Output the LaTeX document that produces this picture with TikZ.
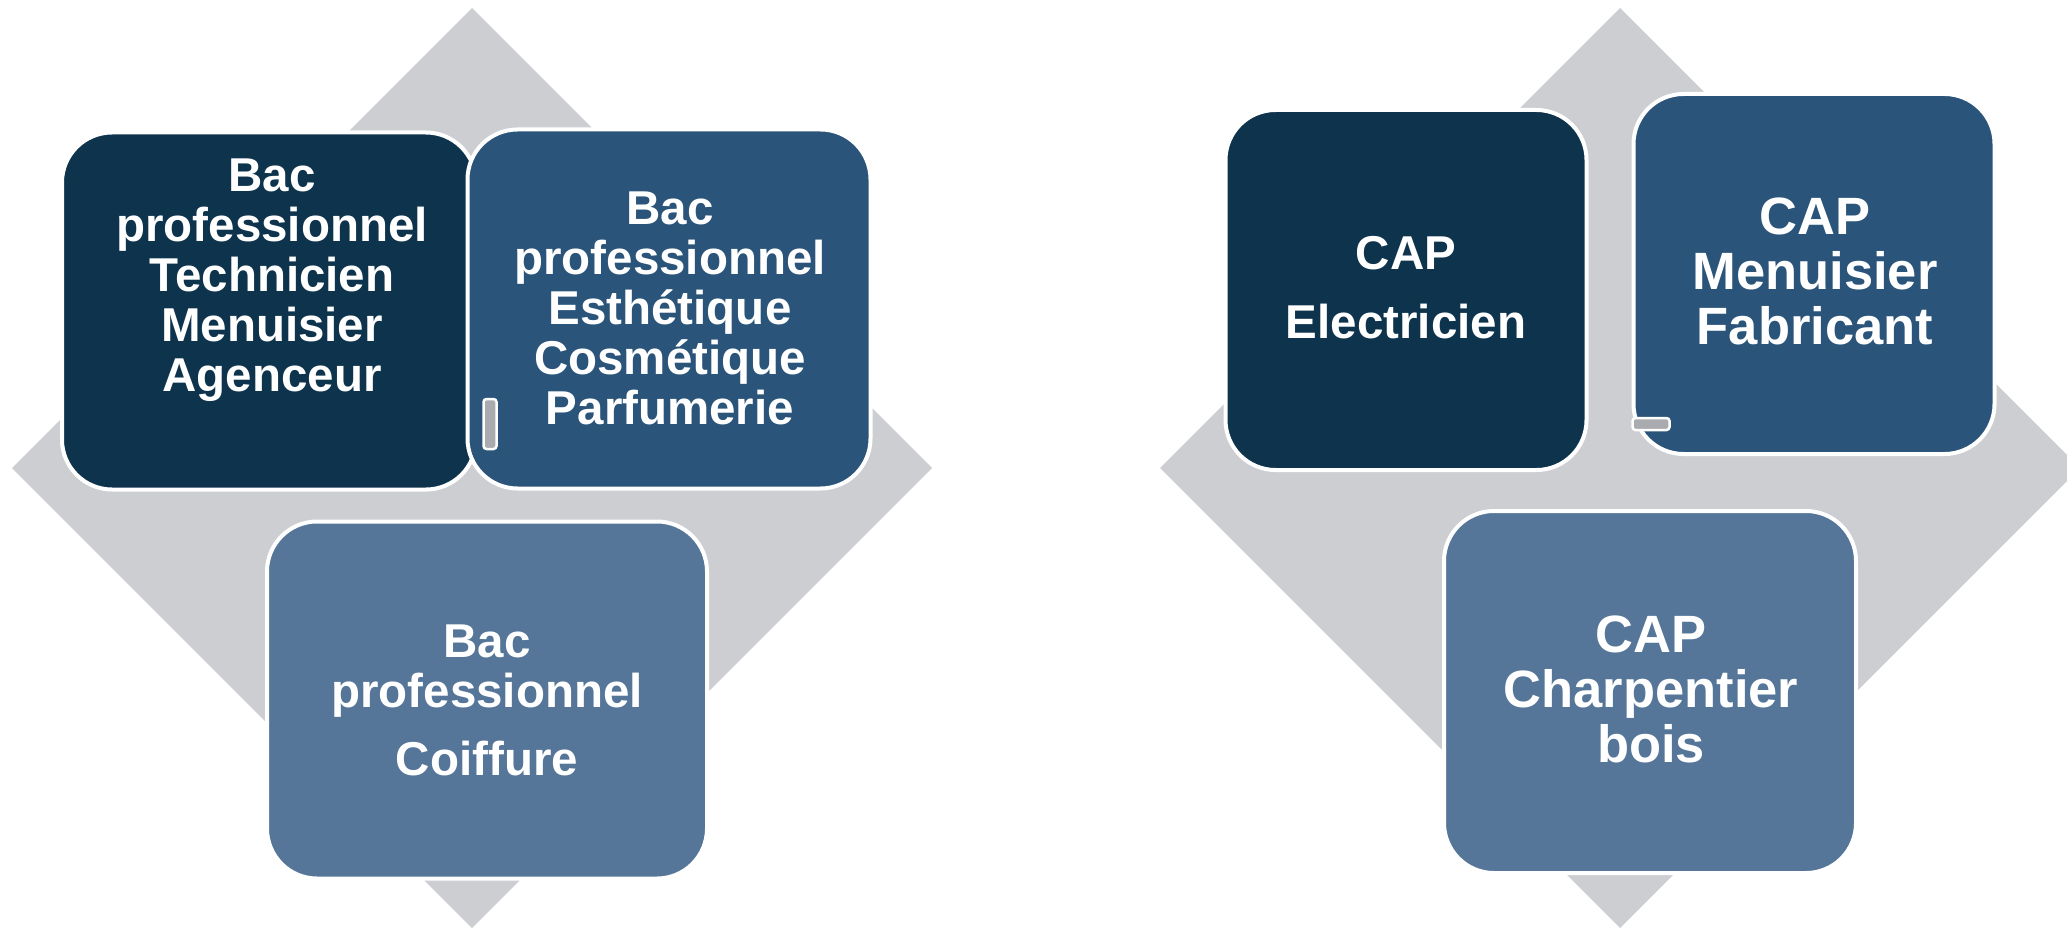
\documentclass[tikz,border=0pt]{standalone}
\usepackage{fontspec}
\setmainfont{Liberation Sans}
\definecolor{diamgrey}{HTML}{CDCED2}
\definecolor{navydark}{HTML}{0E334D}
\definecolor{navymid}{HTML}{2A5479}
\definecolor{navylight}{HTML}{557699}
\definecolor{tabgrey}{HTML}{A9ABAF}
\begin{document}
\begin{tikzpicture}[x=1pt, y=-1pt,
  box/.style={draw=white, line width=4pt, rounded corners=50pt, inner sep=0pt},
  tab/.style={draw=white, fill=tabgrey, line width=2.5pt, rounded corners=3pt, inner sep=0pt},
  bactext/.style={text=white, align=center, font=\bfseries\fontsize{47.5}{50}\selectfont},
  captext/.style={text=white, align=center, font=\bfseries\fontsize{52.5}{55}\selectfont}]
\useasboundingbox (0,0) rectangle (2067,928);
\clip (0,0) rectangle (2067,928);

% grey diamonds behind
\fill[diamgrey] (472,8) -- (932,468) -- (472,928) -- (12,468) -- cycle;
\fill[diamgrey] (1620,8) -- (2080,468) -- (1620,928) -- (1160,468) -- cycle;

% Bac pro
  \node[box, fill=navydark, minimum width=414pt, minimum height=357pt] (bacmen) at (269,311) {};
  \node[box, fill=navymid, minimum width=403pt, minimum height=359pt] (bacest) at (669,309) {};
  \node[box, fill=navylight, minimum width=440pt, minimum height=357pt] (baccoif) at (487,700) {};
    \node[tab, minimum width=13pt, minimum height=50pt] (tabest) at (490,424) {};

  \node[bactext] (tmen) at (272,280) {Bac\\professionnel\\Technicien\\Menuisier\\Agenceur};
  \node[bactext] (test) at (670,308) {Bac\\professionnel\\Esthétique\\Cosmétique\\Parfumerie};
  \node[bactext] (tcoif) at (487,700) {Bac\\professionnel\\[18pt]Coiffure};

% CAP
  \node[box, fill=navydark, minimum width=361pt, minimum height=360pt] (capelec) at (1406,290) {};
  \node[box, fill=navymid, minimum width=361pt, minimum height=360pt] (capmen) at (1814,274) {};
  \node[box, fill=navylight, minimum width=412pt, minimum height=362pt] (capchar) at (1650,692) {};
    \node[tab, minimum width=37pt, minimum height=12pt] (tabmen) at (1651,424) {};

  \node[bactext] (telec) at (1406,288) {CAP\\[19pt]Electricien};
  \node[captext] (tmenf) at (1815,271) {CAP\\Menuisier\\Fabricant};
  \node[captext] (tchar) at (1651,689) {CAP\\Charpentier\\bois};
\end{tikzpicture}
\end{document}
